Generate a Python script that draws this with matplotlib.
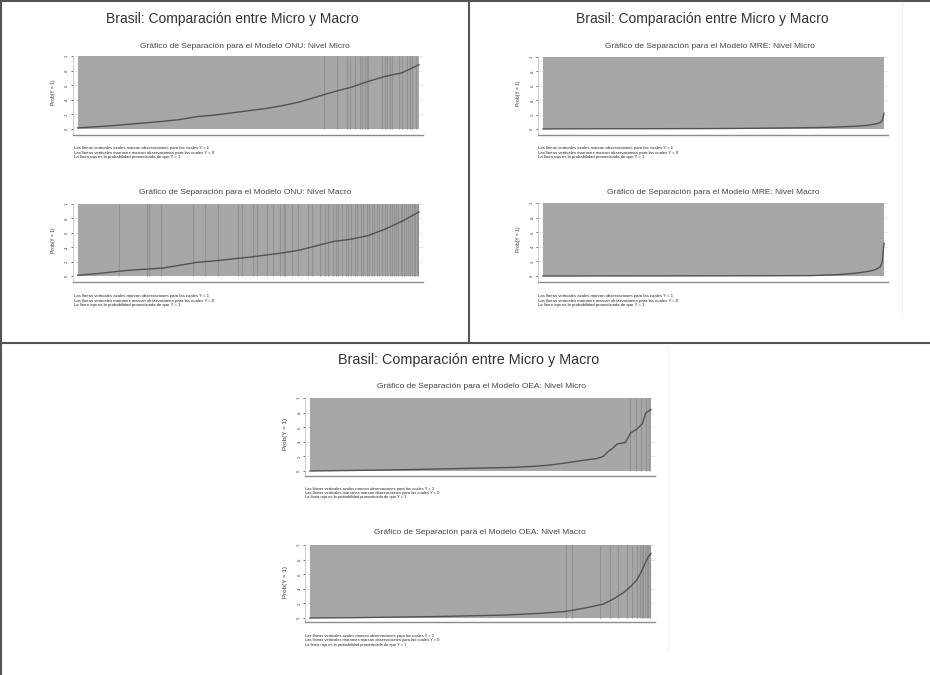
import matplotlib.pyplot as plt
from matplotlib.lines import Line2D

plt.rcParams['font.family'] = ['Liberation Sans', 'DejaVu Sans']

W, H = 930, 675

titulo = "Brasil: Comparación entre Micro y Macro"
notas = ["Las líneas verticales azules marcan observaciones para las cuales Y = 1",
         "Las líneas verticales marrones marcan observaciones para las cuales Y = 0",
         "La línea roja es la probabilidad pronosticada de que Y = 1"]
yticks = [0, 0.2, 0.4, 0.6, 0.8, 1]
ytick_labels = ["0", ".2", ".4", ".6", ".8", "1"]

# rango de la observacion (%) y probabilidad pronosticada
onu_micro_rank = [0, 5, 10, 15, 20, 25, 30, 35, 40, 45, 50, 55, 60, 65, 70, 75, 80, 85, 90, 95, 100]
onu_micro_prob = [0.015, 0.03, 0.045, 0.065, 0.085, 0.105, 0.13, 0.17, 0.19, 0.22, 0.25,
                  0.28, 0.32, 0.37, 0.44, 0.51, 0.57, 0.65, 0.72, 0.77, 0.88]
onu_micro_unos = [72.3, 76.0, 78.9, 79.8, 81.3, 82.7, 83.3, 84.2, 84.7, 85.2, 89.1, 90.1,
                  90.6, 91.6, 92.1, 94.0, 95.0, 96.5, 97.4, 97.9, 99.2]

onu_macro_rank = [0, 5, 10, 15, 20, 25, 30, 35, 40, 45, 50, 55, 60, 65, 70, 75, 80, 85, 90, 95, 100]
onu_macro_prob = [0.01, 0.03, 0.055, 0.08, 0.095, 0.11, 0.15, 0.19, 0.21, 0.235, 0.26,
                  0.29, 0.32, 0.36, 0.42, 0.48, 0.51, 0.56, 0.65, 0.76, 0.89]
onu_macro_unos = [12.0, 20.3, 21.0, 24.4, 33.9, 37.3, 41.2, 47.1, 48.0, 51.5, 52.4, 55.4,
                  57.3, 59.3, 60.3, 60.7, 62.7, 64.6, 67.6, 68.6, 71.0, 72.5, 73.4, 74.9,
                  75.6, 76.3, 77.4, 78.5, 79.2, 80.1, 81.2, 81.8, 82.9, 83.6, 84.8, 85.3,
                  86.1, 86.9, 87.8, 88.4, 89.3, 89.9, 90.6, 91.4, 92.0, 92.7, 93.3, 93.9,
                  94.6, 95.1, 95.7, 96.2, 96.8, 97.3, 97.9, 98.4, 98.9, 99.4, 99.8]

mre_micro_rank = [0, 5, 14, 30, 50, 62, 72, 80, 86, 90, 93, 95, 97, 98, 99, 99.5, 100]
mre_micro_prob = [0.0, 0.002, 0.003, 0.004, 0.006, 0.01, 0.015, 0.02, 0.027, 0.035, 0.042,
                  0.05, 0.065, 0.075, 0.09, 0.12, 0.22]
mre_micro_unos = []

mre_macro_rank = [0, 10, 30, 50, 70, 79, 87, 92, 95, 97, 98, 99, 99.5, 100]
mre_macro_prob = [0.0, 0.0, 0.001, 0.002, 0.004, 0.006, 0.02, 0.04, 0.06, 0.08, 0.10, 0.13,
                  0.2, 0.45]
mre_macro_unos = []

oea_micro_rank = [0, 3, 20, 30, 40, 50, 60, 66, 70, 75, 80, 84, 86, 87.5, 89, 90, 92.5, 94,
                  96, 97.5, 98.5, 100]
oea_micro_prob = [0.0, 0.002, 0.012, 0.02, 0.03, 0.04, 0.05, 0.065, 0.08, 0.11, 0.145, 0.17,
                  0.20, 0.27, 0.32, 0.37, 0.39, 0.52, 0.58, 0.65, 0.80, 0.84]
oea_micro_unos = [93.8, 95.6, 97.0, 98.5, 99.5]

oea_macro_rank = [0, 13.7, 37, 57, 68, 75, 81, 86, 89, 92, 94, 95.8, 96.8, 98.2, 99.2, 100]
oea_macro_prob = [0.0, 0.005, 0.02, 0.04, 0.065, 0.09, 0.14, 0.19, 0.26, 0.35, 0.43, 0.52,
                  0.60, 0.74, 0.84, 0.885]
oea_macro_unos = [75.1, 76.7, 85.0, 88.0, 90.4, 92.9, 94.3, 95.8, 96.8, 97.3, 97.8, 98.3,
                  98.7, 99.2, 99.7]

FONDO = '#a7a7a7'
LINEA1 = '#939393'
CURVA = '#525252'

fig = plt.figure(figsize=(W / 100, H / 100), dpi=100)


def txt(x, y, s, **kw):
    fig.text(x / W, 1 - y / H, s, **kw)


def linea(xs, ys, **kw):
    fig.add_artist(Line2D([x / W for x in xs], [1 - y / H for y in ys], **kw))


def panel(pl, pr, top, zero, base, rank, prob, unos, sub, sx, sy, nx, ny,
          fs_sub=6, fs_lab=3.6, fs_nota=3.1, gap=4.6):
    left, right = pl - 4.7, pr + 4
    ax = fig.add_axes([left / W, 1 - base / H, (right - left) / W, (base - top) / H])
    kx = (pr - pl) / 100
    ky = zero - top
    ax.set_xlim(-(pl - left) / kx, 100 + (right - pr) / kx)
    ax.set_ylim(-(base - zero) / ky, 1)
    for v in yticks[1:]:
        ax.axhline(v, color='#e6e6e6', lw=0.6, zorder=0)
    ax.fill_between([0, 100], 0, 1, color=FONDO, lw=0, zorder=1)
    if unos:
        ax.vlines(unos, 0, 1, color=LINEA1, lw=0.8, zorder=2)
    ax.plot(rank, prob, color=CURVA, lw=1.0, zorder=3)
    ax.set_xticks([])
    ax.set_yticks(yticks, ytick_labels, rotation=90, fontsize=3, va='center')
    ax.tick_params(axis='y', length=1.5, width=0.5, pad=1.5, colors='#333333')
    for s in ['top', 'right']:
        ax.spines[s].set_visible(False)
    ax.spines['left'].set_color('#c4c4c4')
    ax.spines['left'].set_linewidth(0.6)
    ax.spines['bottom'].set_color('#8c8c8c')
    ax.spines['bottom'].set_linewidth(1.0)
    ax.set_facecolor('white')
    txt(left - 20, (top + zero) / 2, 'Prob(Y = 1)', rotation=90, fontsize=fs_lab,
        ha='center', va='center', color='#333333')
    txt(sx, sy, sub, fontsize=fs_sub, ha='center', va='center', color='#444444')
    for i, n in enumerate(notas):
        txt(nx, ny + i * gap, n, fontsize=fs_nota, ha='left', va='center', color='#222222')


# recuadros
linea([0, 930], [1, 1], color='#555555', lw=1.5)
linea([1, 1], [0, 675], color='#555555', lw=1.5)
linea([469, 469], [0, 343], color='#555555', lw=1.5)
linea([0, 930], [343, 343], color='#555555', lw=1.5)
linea([902, 902], [2, 317], color='#f2f2f2', lw=0.8)
linea([668, 668], [346, 650], color='#f3f3f3', lw=0.8)

txt(232, 19, titulo, fontsize=10, ha='center', va='center', color='#333333')
txt(702, 19, titulo, fontsize=10, ha='center', va='center', color='#333333')
txt(469, 360, titulo, fontsize=10.4, ha='center', va='center', color='#333333')

panel(77.7, 419, 56, 129, 135, onu_micro_rank, onu_micro_prob, onu_micro_unos,
      "Gráfico de Separación para el Modelo ONU: Nivel Micro", 245, 46, 74, 148)
panel(77.7, 419, 204, 276, 282, onu_macro_rank, onu_macro_prob, onu_macro_unos,
      "Gráfico de Separación para el Modelo ONU: Nivel Macro", 245, 192, 74, 296)
panel(543, 884, 57, 129, 135, mre_micro_rank, mre_micro_prob, mre_micro_unos,
      "Gráfico de Separación para el Modelo MRE: Nivel Micro", 710, 46, 538, 148)
panel(543, 884, 203, 276, 282, mre_macro_rank, mre_macro_prob, mre_macro_unos,
      "Gráfico de Separación para el Modelo MRE: Nivel Macro", 713, 192, 538, 296)
panel(310, 651, 398, 471, 476, oea_micro_rank, oea_micro_prob, oea_micro_unos,
      "Gráfico de Separación para el Modelo OEA: Nivel Micro", 481, 386, 305, 489,
      fs_lab=4.5, fs_nota=2.9, gap=4)
panel(310, 651, 545, 618, 622, oea_macro_rank, oea_macro_prob, oea_macro_unos,
      "Gráfico de Separación para el Modelo OEA: Nivel Macro", 480, 532, 305, 636,
      fs_lab=4.5, fs_nota=2.9, gap=4.3)

fig.savefig('out.png', dpi=100)
